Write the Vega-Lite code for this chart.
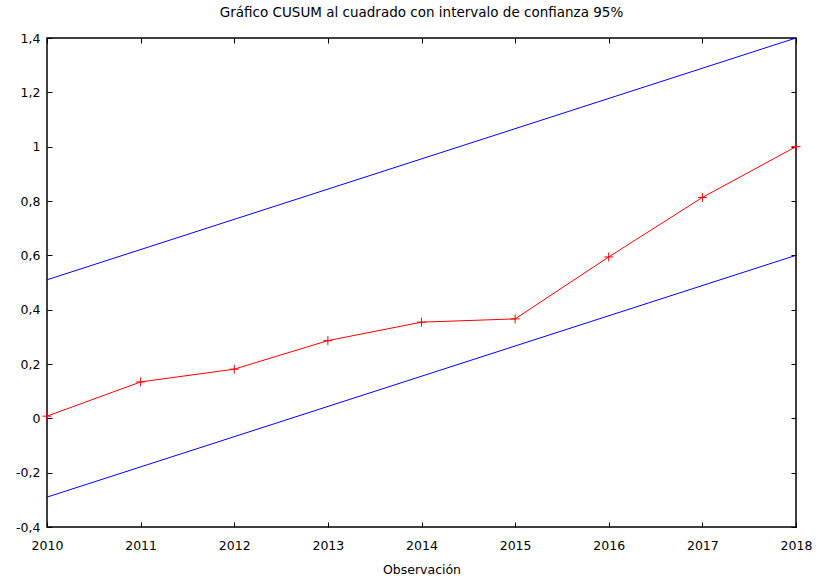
{
  "$schema": "https://vega.github.io/schema/vega-lite/v6.json",
  "width": 749,
  "height": 489,
  "autosize": {"type": "none"},
  "padding": {"left": 47, "top": 38, "right": 20, "bottom": 51},
  "background": "white",
  "title": {
    "text": "Gráfico CUSUM al cuadrado con intervalo de confianza 95%",
    "font": "DejaVu Sans",
    "fontSize": 13.5,
    "fontWeight": "normal",
    "color": "#000000",
    "offset": 13
  },
  "datasets": {
    "cusum": [
      {"obs": 2010, "valor": 0.008},
      {"obs": 2011, "valor": 0.134},
      {"obs": 2012, "valor": 0.181},
      {"obs": 2013, "valor": 0.286},
      {"obs": 2014, "valor": 0.354},
      {"obs": 2015, "valor": 0.366},
      {"obs": 2016, "valor": 0.594},
      {"obs": 2017, "valor": 0.813},
      {"obs": 2018, "valor": 1.0}
    ],
    "bandas": [
      {"obs": 2010, "valor": 0.51, "banda": "superior"},
      {"obs": 2018, "valor": 1.4, "banda": "superior"},
      {"obs": 2010, "valor": -0.29, "banda": "inferior"},
      {"obs": 2018, "valor": 0.6, "banda": "inferior"}
    ]
  },
  "config": {
    "view": {"stroke": "#000000", "strokeWidth": 1.5},
    "axis": {
      "grid": false,
      "domain": false,
      "tickColor": "#000000",
      "tickWidth": 1,
      "tickSize": -5,
      "labelFont": "DejaVu Sans",
      "labelFontSize": 12.5,
      "labelColor": "#000000",
      "titleFont": "DejaVu Sans",
      "titleFontSize": 12.5,
      "titleFontWeight": "normal",
      "titleColor": "#000000"
    }
  },
  "resolve": {"axis": {"x": "independent", "y": "independent"}},
  "layer": [
    {
      "data": {"name": "bandas"},
      "mark": {"type": "line", "color": "#0000ff", "strokeWidth": 1},
      "encoding": {
        "x": {
          "field": "obs", "type": "quantitative",
          "scale": {"domain": [2010, 2018], "nice": false, "zero": false},
          "axis": {
            "values": [2010, 2011, 2012, 2013, 2014, 2015, 2016, 2017, 2018],
            "format": "d",
            "labelPadding": 17,
            "labelFlush": false,
            "title": "Observación",
            "titlePadding": 12
          }
        },
        "y": {
          "field": "valor", "type": "quantitative",
          "scale": {"domain": [-0.4, 1.4], "nice": false, "zero": false},
          "axis": {
            "values": [-0.4, -0.2, 0, 0.2, 0.4, 0.6, 0.8, 1, 1.2, 1.4],
            "labelExpr": "replace(replace(format(datum.value, '.2~f'), '.', ','), '−', '-')",
            "labelPadding": 12,
            "labelFlush": false,
            "title": null
          }
        },
        "detail": {"field": "banda"}
      }
    },
    {
      "data": {"name": "cusum"},
      "mark": {"type": "line", "color": "#ff0000", "strokeWidth": 1},
      "encoding": {
        "x": {
          "field": "obs", "type": "quantitative",
          "axis": {
            "orient": "top",
            "values": [2010, 2011, 2012, 2013, 2014, 2015, 2016, 2017, 2018],
            "labels": false,
            "title": null
          }
        },
        "y": {
          "field": "valor", "type": "quantitative",
          "axis": {
            "orient": "right",
            "values": [-0.4, -0.2, 0, 0.2, 0.4, 0.6, 0.8, 1, 1.2, 1.4],
            "labels": false,
            "title": null
          }
        }
      }
    },
    {
      "data": {"name": "cusum"},
      "mark": {
        "type": "point",
        "shape": "M-1,0L1,0M0,-1L0,1",
        "filled": false,
        "stroke": "#ff0000",
        "strokeWidth": 1,
        "size": 81,
        "opacity": 1
      },
      "encoding": {
        "x": {"field": "obs", "type": "quantitative", "axis": null},
        "y": {"field": "valor", "type": "quantitative", "axis": null}
      }
    }
  ]
}
